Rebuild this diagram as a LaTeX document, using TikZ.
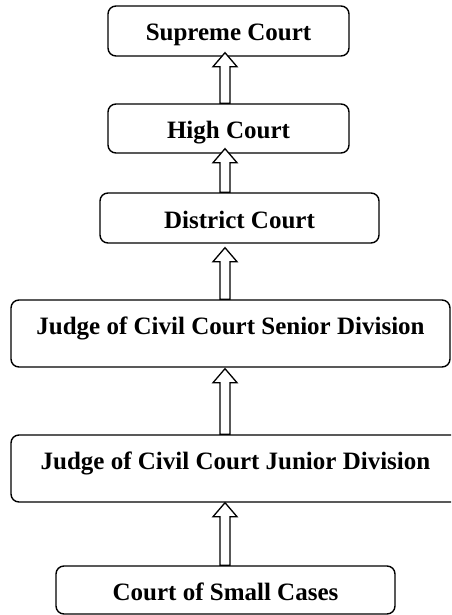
\documentclass[tikz,border=0pt]{standalone}
\usepackage{fontspec}
\setmainfont{Liberation Serif}
\usetikzlibrary{calc}
\tikzset{
  court/.style={draw, line width=1.4pt, rounded corners=8pt, inner sep=0pt,
    font=\fontsize{25}{30}\selectfont\bfseries, text height=20pt, text depth=0pt},
  widecourt/.style={text height=17pt, text depth=14.5pt},
  uparr/.style={draw, fill=white, line width=1.3pt, line join=miter}
}
\newcommand\courtarrow[3]{%
  \path[uparr] let \p1=(#1.north), \p2=(#2.south), \p3=(axis) in
    (\x3-5pt,\y1) -- (\x3-5pt,\y2+#3-14pt) -- (\x3-12pt,\y2+#3-14pt) -- (\x3,\y2+#3)
    -- (\x3+12pt,\y2+#3-14pt) -- (\x3+5pt,\y2+#3-14pt) -- (\x3+5pt,\y1) -- cycle;}
\begin{document}
\begin{tikzpicture}[x=1pt,y=-1pt]
\useasboundingbox (0,0) rectangle (451,615);
\clip (0,0) rectangle (451,615);
\coordinate (axis) at (225,0);
\node[court, minimum width=241pt, minimum height=50pt] (b1) at (228.5,31) {Supreme Court};
\node[court, minimum width=241pt, minimum height=49pt] (b2) at (228.5,128.5) {High Court};
\node[court, minimum width=279pt, minimum height=50pt] (b3) at (239.5,218) {District Court};
\node[court, widecourt, minimum width=439pt, minimum height=67pt] (b4) at (230.5,333.5) {Judge of Civil Court Senior Division};
\node[court, widecourt, minimum width=449pt, minimum height=67pt] (b5) at (235.5,468.5) {Judge of Civil Court Junior Division};
\node[court, minimum width=339pt, minimum height=48pt] (b6) at (225.5,590) {Court of Small Cases};
\courtarrow{b2}{b1}{4pt}
\courtarrow{b3}{b2}{5pt}
\courtarrow{b4}{b3}{-4pt}
\courtarrow{b5}{b4}{-1pt}
\courtarrow{b6}{b5}{0pt}
\end{tikzpicture}
\end{document}
